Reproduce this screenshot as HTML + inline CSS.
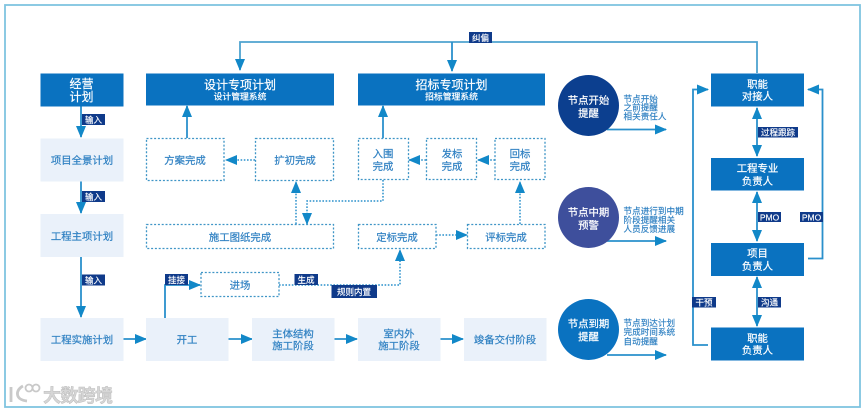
<!DOCTYPE html>
<html lang="zh"><head><meta charset="utf-8">
<style>
html,body{margin:0;padding:0;background:#fff;width:865px;height:412px;overflow:hidden}
svg{display:block;filter:blur(.35px)}
text{font-family:"Liberation Sans","Noto Sans CJK SC",sans-serif;text-anchor:middle}
.d{fill:#0a72c0}
.l{fill:#eaf1fa}
.o{fill:#fff;stroke:#3f95c6;stroke-width:1.3;stroke-dasharray:2 1.8}
.w{fill:#fff;stroke:#fff;stroke-width:.2}
.b{fill:#2f80c2;stroke:#2f80c2;stroke-width:.2}
.t{fill:#fff;font-size:8.5px;stroke:#fff;stroke-width:.15}
.tag{fill:#0f3a8a}
.ln{fill:none;stroke:#2a90cc;stroke-width:1.8}
.dot{fill:none;stroke:#2a90cc;stroke-width:1.5;stroke-dasharray:1.6 1.6}
.desc{fill:#2f80c2;stroke:#2f80c2;stroke-width:.15;font-size:8.6px;text-anchor:start}
</style></head><body>
<svg width="865" height="412" viewBox="0 0 865 412" xmlns="http://www.w3.org/2000/svg">
<defs>
<marker id="a" markerUnits="userSpaceOnUse" markerWidth="13" markerHeight="11" refX="11" refY="5.500" orient="auto-start-reverse"><path d="M0,.5 L12,5.500 L0,10.500 Z" fill="#1288c8"/></marker>
</defs>
<rect width="865" height="412" fill="#fff"/>
<rect x="5" y="5" width="855" height="402" fill="none" stroke="#7fc4e0" stroke-width="1.800"/>

<!-- connectors -->
<path class="ln" style="stroke:#4ea3cf" d="M757,73V42H240V70" marker-end="url(#a)"/>
<path class="ln" d="M452,42V71" marker-end="url(#a)"/>
<path class="ln" d="M81,106V137" marker-end="url(#a)"/>
<path class="ln" d="M81,181V213" marker-end="url(#a)"/>
<path class="ln" d="M81,257V317" marker-end="url(#a)"/>
<path class="ln" d="M123,339H146" marker-end="url(#a)"/>
<path class="ln" d="M228,339H252" marker-end="url(#a)"/>
<path class="ln" d="M333,339H357" marker-end="url(#a)"/>
<path class="ln" d="M440,339H463" marker-end="url(#a)"/>
<path class="ln" d="M165,318V285H200" marker-end="url(#a)"/>
<path class="ln" d="M187,138V106" marker-end="url(#a)"/>
<path class="ln" d="M383,138V106" marker-end="url(#a)"/>
<path class="dot" d="M279,285H400V250" marker-end="url(#a)"/>
<path class="dot" d="M255,160H226" marker-end="url(#a)"/>
<path class="dot" d="M426,160H409" marker-end="url(#a)"/>
<path class="dot" d="M495,160H478" marker-end="url(#a)"/>
<path class="dot" d="M520,224V182" marker-end="url(#a)"/>
<path class="dot" d="M436,235H467" marker-end="url(#a)"/>
<path class="dot" d="M296,224V182" marker-end="url(#a)"/>
<path class="dot" d="M383,180V201H307V224" marker-end="url(#a)"/>
<path class="ln" d="M607,129.500H666" marker-end="url(#a)"/>
<path class="ln" d="M607,241H666" marker-end="url(#a)"/>
<path class="ln" d="M607,355H666" marker-end="url(#a)"/>
<path class="ln" d="M757,108V156" marker-start="url(#a)" marker-end="url(#a)"/>
<path class="ln" d="M757,192V241" marker-start="url(#a)" marker-end="url(#a)"/>
<path class="ln" d="M757,277V326" marker-start="url(#a)" marker-end="url(#a)"/>
<path class="ln" d="M708,345H693V89.500H708" marker-end="url(#a)"/>
<path class="ln" d="M808,258.500H822.500V89.500H808" marker-end="url(#a)"/>

<!-- dark boxes -->
<rect class="d" x="40.500" y="73.500" width="83" height="33"/>
<text class="w" font-size="12" x="81.500" y="88">经营</text>
<text class="w" font-size="12" x="81.500" y="101">计划</text>
<rect class="d" x="146" y="73.500" width="188" height="32"/>
<text class="w" font-size="12" x="240" y="89">设计专项计划</text>
<text class="w" font-size="8.800" x="240" y="99.500">设计管理系统</text>
<rect class="d" x="358" y="73.500" width="187" height="32"/>
<text class="w" font-size="12" x="451.500" y="89">招标专项计划</text>
<text class="w" font-size="8.800" x="451.500" y="99.500">招标管理系统</text>

<!-- light boxes -->
<rect class="l" x="40.500" y="138.500" width="83" height="43"/>
<text class="b" font-size="10.400" x="82" y="164">项目全景计划</text>
<rect class="l" x="40.500" y="214" width="83" height="43"/>
<text class="b" font-size="10.400" x="82" y="240">工程主项计划</text>
<rect class="l" x="40.500" y="318" width="83" height="43"/>
<text class="b" font-size="10.400" x="82" y="343.500">工程实施计划</text>
<rect class="l" x="146" y="318" width="82.500" height="43"/>
<text class="b" font-size="10.400" x="187" y="343.500">开工</text>
<rect class="l" x="252" y="318" width="82.500" height="43"/>
<text class="b" font-size="10.400" x="293" y="337.500">主体结构</text>
<text class="b" font-size="10.400" x="293" y="349.500">施工阶段</text>
<rect class="l" x="358" y="318" width="82.500" height="43"/>
<text class="b" font-size="10.400" x="399" y="337.500">室内外</text>
<text class="b" font-size="10.400" x="399" y="349.500">施工阶段</text>
<rect class="l" x="464" y="318" width="82.500" height="43"/>
<text class="b" font-size="10.400" x="505" y="343.500">竣备交付阶段</text>

<!-- dashed boxes -->
<rect class="o" x="146.500" y="138.500" width="77.500" height="42"/>
<text class="b" font-size="10.400" x="185" y="164">方案完成</text>
<rect class="o" x="255.500" y="138.500" width="78" height="42"/>
<text class="b" font-size="10.400" x="295" y="164">扩初完成</text>
<rect class="o" x="358.500" y="138.500" width="50" height="41"/>
<text class="b" font-size="10.400" x="383" y="157.500">入围</text>
<text class="b" font-size="10.400" x="383" y="170">完成</text>
<rect class="o" x="426.500" y="138.500" width="50" height="41"/>
<text class="b" font-size="10.400" x="452" y="157.500">发标</text>
<text class="b" font-size="10.400" x="452" y="170">完成</text>
<rect class="o" x="495" y="138.500" width="50" height="41"/>
<text class="b" font-size="10.400" x="520" y="157.500">回标</text>
<text class="b" font-size="10.400" x="520" y="170">完成</text>
<rect class="o" x="146.500" y="224.500" width="187" height="24"/>
<text class="b" font-size="10.400" x="240" y="241">施工图纸完成</text>
<rect class="o" x="358.500" y="224.500" width="77.500" height="24"/>
<text class="b" font-size="10.400" x="397" y="241">定标完成</text>
<rect class="o" x="467.500" y="224.500" width="77.500" height="24"/>
<text class="b" font-size="10.400" x="506" y="241">评标完成</text>
<rect class="o" x="201" y="272.500" width="78" height="24"/>
<text class="b" font-size="10.400" x="240" y="289">进场</text>

<!-- circles -->
<circle cx="588.500" cy="105.500" r="30.500" fill="#0c3f8f"/>
<text class="w" font-size="10.400" x="588.500" y="104">节点开始</text>
<text class="w" font-size="10.400" x="588.500" y="117">提醒</text>
<circle cx="588.500" cy="217.500" r="30.500" fill="#3e4f9c"/>
<text class="w" font-size="10.400" x="588.500" y="216">节点中期</text>
<text class="w" font-size="10.400" x="588.500" y="229">预警</text>
<circle cx="588.500" cy="329.500" r="30.500" fill="#0a72c0"/>
<text class="w" font-size="10.400" x="588.500" y="327.500">节点到期</text>
<text class="w" font-size="10.400" x="588.500" y="340.500">提醒</text>

<text class="desc" x="623.500" y="102">节点开始</text>
<text class="desc" x="623.500" y="110.500">之前提醒</text>
<text class="desc" x="623.500" y="119.500">相关责任人</text>
<text class="desc" x="623.500" y="214">节点进行到中期</text>
<text class="desc" x="623.500" y="223">阶段提醒相关</text>
<text class="desc" x="623.500" y="232">人员反馈进展</text>
<text class="desc" x="623.500" y="326">节点到达计划</text>
<text class="desc" x="623.500" y="335">完成时间系统</text>
<text class="desc" x="623.500" y="344.500">自动提醒</text>

<!-- right boxes -->
<rect class="d" x="711" y="73.500" width="93" height="33"/>
<text class="w" font-size="10.400" x="757.500" y="88">职能</text>
<text class="w" font-size="10.400" x="757.500" y="100">对接人</text>
<rect class="d" x="711" y="158" width="93" height="32.500"/>
<text class="w" font-size="10.400" x="757.500" y="172">工程专业</text>
<text class="w" font-size="10.400" x="757.500" y="185">负责人</text>
<rect class="d" x="711" y="243" width="93" height="33"/>
<text class="w" font-size="10.400" x="757.500" y="257">项目</text>
<text class="w" font-size="10.400" x="757.500" y="270">负责人</text>
<rect class="d" x="711" y="327.500" width="93" height="33"/>
<text class="w" font-size="10.400" x="757.500" y="342">职能</text>
<text class="w" font-size="10.400" x="757.500" y="354">负责人</text>

<!-- tags -->
<rect class="tag" x="82" y="114" width="23" height="11"/><text class="t" x="93.500" y="123">输入</text>
<rect class="tag" x="82" y="191" width="23" height="11"/><text class="t" x="93.500" y="200">输入</text>
<rect class="tag" x="82" y="274.500" width="23" height="11"/><text class="t" x="93.500" y="283.500">输入</text>
<rect class="tag" x="165" y="274" width="23" height="11"/><text class="t" x="176.500" y="283">挂接</text>
<rect class="tag" x="294.500" y="274" width="23.500" height="11"/><text class="t" x="306" y="283">生成</text>
<rect class="tag" x="331.500" y="285" width="45.500" height="13"/><text class="t" x="354" y="295">规则内置</text>
<rect class="tag" x="469" y="32" width="23" height="11"/><text class="t" x="480.500" y="41">纠偏</text>
<rect class="tag" x="758" y="127" width="40" height="10.500"/><text class="t" x="778" y="135.500">过程跟踪</text>
<rect class="tag" x="758" y="212" width="23" height="10"/><text class="t" x="769.500" y="220.500">PMO</text>
<rect class="tag" x="800" y="212" width="23" height="10"/><text class="t" x="811.500" y="220.500">PMO</text>
<rect class="tag" x="692" y="297" width="24" height="10.500"/><text class="t" x="704" y="305.500">干预</text>
<rect class="tag" x="758" y="297" width="23" height="10.500"/><text class="t" x="769.500" y="305.500">沟通</text>

<!-- watermark -->
<g fill="none" stroke="#c9c9c9" stroke-width="2.800">
<path d="M11,387V402M23,386C15,390 15,400 27,401"/>
<circle cx="29" cy="388" r="3.500" stroke-width="1.800"/><circle cx="36" cy="388" r="3.500" stroke-width="1.800"/>
</g>
<text x="78" y="402" font-size="18" font-weight="bold" fill="#d6d6d6" stroke="#bdbdbd" stroke-width=".5" textLength="70">大数跨境</text>
</svg>
</body></html>
